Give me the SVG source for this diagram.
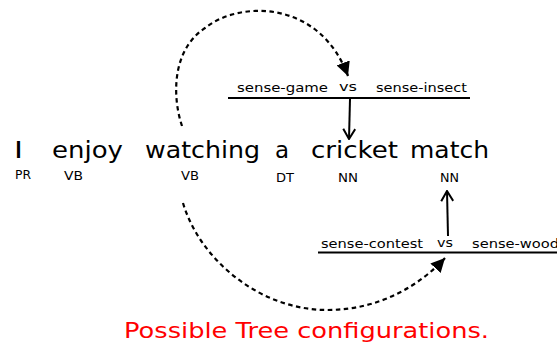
<svg xmlns="http://www.w3.org/2000/svg" width="557" height="344" viewBox="0 0 557 344">
<style>
text{font-family:"DejaVu Sans","Liberation Sans",sans-serif;fill:#000}
.w{font-size:23px}
.p{font-size:12px}
.s{font-size:13px}
.cap{font-size:22px;fill:#ff0000}
.bar{stroke:#000;stroke-width:2;fill:none}
.dash{stroke:#000;stroke-width:2.2;fill:none;stroke-dasharray:4.5,3.5}
.solid{stroke:#000;stroke-width:2;fill:none}
</style>
<defs>
<marker id="tri" markerUnits="userSpaceOnUse" viewBox="0 0 14 14" refX="14" refY="7" markerWidth="14" markerHeight="14" orient="auto">
<path d="M0,0 L14,7 L0,14 Z" fill="#000"/>
</marker>
<marker id="vee" markerUnits="userSpaceOnUse" viewBox="0 0 12 14" refX="11" refY="7" markerWidth="12" markerHeight="14" orient="auto">
<path d="M1,1 L11,7 L1,13" fill="none" stroke="#000" stroke-width="2"/>
</marker>
</defs>
<g id="tok-I"><text class="w" x="14" y="158" textLength="9" lengthAdjust="spacingAndGlyphs">I</text><text class="p" x="15" y="179" textLength="16" lengthAdjust="spacingAndGlyphs">PR</text></g>
<g id="tok-enjoy"><text class="w" x="52" y="158" textLength="71" lengthAdjust="spacingAndGlyphs">enjoy</text><text class="p" x="64" y="180" textLength="19" lengthAdjust="spacingAndGlyphs">VB</text></g>
<g id="tok-watching"><text class="w" x="145" y="158" textLength="115" lengthAdjust="spacingAndGlyphs">watching</text><text class="p" x="181" y="180" textLength="18" lengthAdjust="spacingAndGlyphs">VB</text></g>
<g id="tok-a"><text class="w" x="275" y="158">a</text><text class="p" x="276" y="182" textLength="18" lengthAdjust="spacingAndGlyphs">DT</text></g>
<g id="tok-cricket"><text class="w" x="311" y="158" textLength="87" lengthAdjust="spacingAndGlyphs">cricket</text><text class="p" x="338" y="182" textLength="20" lengthAdjust="spacingAndGlyphs">NN</text></g>
<g id="tok-match"><text class="w" x="410" y="158" textLength="79" lengthAdjust="spacingAndGlyphs">match</text><text class="p" x="440" y="182" textLength="19" lengthAdjust="spacingAndGlyphs">NN</text></g>
<g id="sense-cricket">
<text class="s" x="237" y="92" textLength="91" lengthAdjust="spacingAndGlyphs">sense-game</text>
<text class="s" x="339" y="91" textLength="18" lengthAdjust="spacingAndGlyphs">vs</text>
<text class="s" x="376" y="92" textLength="91" lengthAdjust="spacingAndGlyphs">sense-insect</text>
<line class="bar" x1="228" y1="98" x2="470" y2="98"/>
</g>
<g id="sense-match">
<text class="s" x="437" y="247" textLength="16" lengthAdjust="spacingAndGlyphs">vs</text>
<text class="s" x="321" y="248" textLength="102" lengthAdjust="spacingAndGlyphs">sense-contest</text>
<text class="s" x="472" y="248" textLength="87" lengthAdjust="spacingAndGlyphs">sense-wood</text>
<line class="bar" x1="318" y1="252.5" x2="557" y2="252.5"/>
</g>
<g id="connectors">
<path class="dash" d="M182,126 C172,96 172,50 205,28 C240,0 320,0 348,76" marker-end="url(#tri)"/>
<path class="dash" d="M183,203 C200,260 260,310 327,310 C380,310 420,285 445,258" marker-end="url(#tri)"/>
<path class="solid" d="M350,99 L349,139" marker-end="url(#vee)"/>
<path class="solid" d="M448,236 L447,191" marker-end="url(#vee)"/>
</g>
<g id="caption"><text class="cap" x="124" y="338" textLength="365" lengthAdjust="spacingAndGlyphs">Possible Tree configurations.</text></g>
</svg>
